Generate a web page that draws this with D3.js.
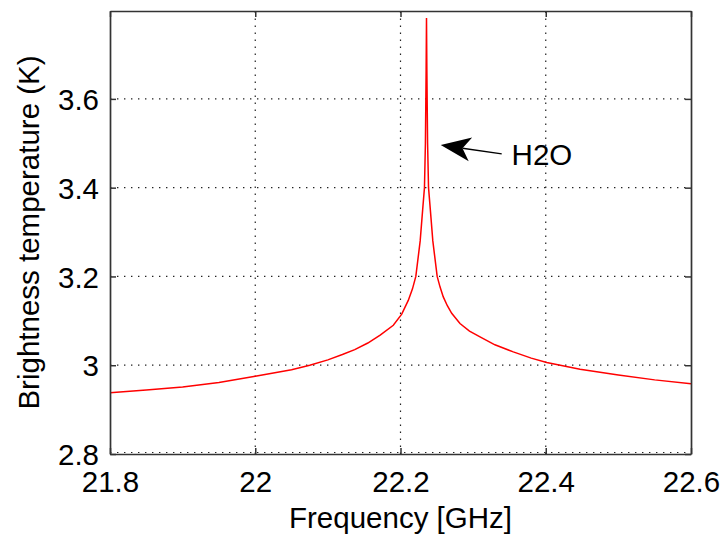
<!DOCTYPE html>
<html>
<head>
<meta charset="utf-8">
<script src="https://cdn.jsdelivr.net/npm/d3@7"></script>
<style>
  html, body { margin: 0; padding: 0; background: #fff; }
  svg { display: block; }
  text { font-family: "Liberation Sans", Arial, Helvetica, sans-serif; fill: #000; }
</style>
</head>
<body>
<svg id="chart" width="726" height="539"></svg>
<script>
// ---- data ----
const freqs = [21.80, 21.85, 21.90, 21.95, 22.00, 22.05, 22.075, 22.10, 22.12, 22.137, 22.155, 22.172, 22.1901, 22.2017, 22.2107, 22.2165,
               22.2211, 22.2271, 22.2305, 22.2330, 22.2343, 22.2353, 22.2358, 22.2363, 22.2373, 22.2386, 22.2411, 22.2445, 22.2505,
               22.2545, 22.2589, 22.2645, 22.2705, 22.2819, 22.295, 22.3095, 22.33, 22.3553, 22.38, 22.4013, 22.4472, 22.50, 22.55, 22.60];
const temps = [2.938, 2.944, 2.951, 2.961, 2.975, 2.990, 3.000, 3.012, 3.024, 3.035, 3.050, 3.068, 3.090, 3.115, 3.146, 3.172,
               3.200, 3.280, 3.350, 3.400, 3.500, 3.667, 3.782, 3.667, 3.500, 3.400, 3.350, 3.280, 3.200,
               3.176, 3.154, 3.134, 3.117, 3.094, 3.077, 3.064, 3.046, 3.030, 3.016, 3.006, 2.991, 2.978, 2.967, 2.958];
const xTicks = [21.8, 22.0, 22.2, 22.4, 22.6];
const xTickLabels = ["21.8", "22", "22.2", "22.4", "22.6"];
const yTicks = [2.8, 3.0, 3.2, 3.4, 3.6];
const yTickLabels = ["2.8", "3", "3.2", "3.4", "3.6"];
const xDomain = [21.8, 22.6];
const yDomain = [2.8, 3.798];
const arrowTail = [22.3394, 3.476];
const arrowTip = [22.2554, 3.496];
const annotationText = "H2O";
const annotationPos = [22.353, 3.474];
const xLabel = "Frequency [GHz]";
const yLabel = "Brightness temperature (K)";

// ---- layout ----
const svg = d3.select("#chart");
const pLeft = 110, pRight = 691, pTop = 11, pBottom = 454;
const x = d3.scaleLinear().domain(xDomain).range([pLeft, pRight]);
const y = d3.scaleLinear().domain(yDomain).range([pBottom, pTop]);
const fs = 29.5;

// grid
const grid = svg.append("g").attr("stroke", "#222").attr("stroke-width", 1.2).attr("stroke-dasharray", "1.4,5.6");
xTicks.forEach(t => {
  if (t > xDomain[0] && t < xDomain[1])
    grid.append("line").attr("x1", x(t)).attr("x2", x(t)).attr("y1", pBottom).attr("y2", pTop);
});
yTicks.forEach(t => {
  const off = (t === yDomain[0] ? 1.5 : 0);
  grid.append("line").attr("x1", pLeft).attr("x2", pRight).attr("y1", y(t) - off).attr("y2", y(t) - off);
});

// data line
const data = freqs.map((f, i) => [f, temps[i]]);
svg.append("path")
  .datum(data)
  .attr("fill", "none")
  .attr("stroke", "#ff0000")
  .attr("stroke-width", 1.5)
  .attr("stroke-linejoin", "miter")
  .attr("d", d3.line().x(d => x(d[0])).y(d => y(d[1])));

// axes (box) with inward ticks
const axisColor = "#333";
const xAxisB = d3.axisBottom(x).tickValues(xTicks).tickFormat((d, i) => xTickLabels[i]).tickSizeInner(-6).tickSizeOuter(0).tickPadding(16);
const gxb = svg.append("g").attr("transform", `translate(0,${pBottom})`).call(xAxisB);
const xAxisT = d3.axisTop(x).tickValues(xTicks).tickFormat("").tickSizeInner(-6).tickSizeOuter(0);
const gxt = svg.append("g").attr("transform", `translate(0,${pTop})`).call(xAxisT);
const yAxisL = d3.axisLeft(y).tickValues(yTicks).tickFormat((d, i) => yTickLabels[i]).tickSizeInner(-6).tickSizeOuter(0).tickPadding(11);
const gyl = svg.append("g").attr("transform", `translate(${pLeft},0)`).call(yAxisL);
const yAxisR = d3.axisRight(y).tickValues(yTicks).tickFormat("").tickSizeInner(-6).tickSizeOuter(0);
const gyr = svg.append("g").attr("transform", `translate(${pRight},0)`).call(yAxisR);
[gxb, gxt, gyl, gyr].forEach(g => {
  g.select(".domain").attr("stroke", axisColor).attr("stroke-width", 1.7);
  g.selectAll(".tick line").attr("stroke", axisColor).attr("stroke-width", 1.5);
  g.selectAll("text").attr("font-family", "Liberation Sans, Arial, sans-serif").attr("font-size", fs).attr("fill", "#000");
});
gxb.selectAll("text").attr("dy", "0.75em");
gyl.selectAll("text").attr("dy", "0.36em");

// axis labels
svg.append("text").attr("x", (pLeft + pRight) / 2).attr("y", 528).attr("text-anchor", "middle").attr("font-size", fs).text(xLabel);
svg.append("text").attr("transform", `translate(39,${(pTop + pBottom) / 2}) rotate(-90)`).attr("text-anchor", "middle").attr("font-size", fs).text(yLabel);

// annotation arrow
const tx = x(arrowTail[0]), ty = y(arrowTail[1]);
const hx = x(arrowTip[0]), hy = y(arrowTip[1]);
const len = Math.hypot(hx - tx, hy - ty);
const ux = (hx - tx) / len, uy = (hy - ty) / len;
const nx = -uy, ny = ux;
const L = 30, W = 24, notch = 22;
const bx = hx - L * ux, by = hy - L * uy;
const nbx = hx - notch * ux, nby = hy - notch * uy;
svg.append("line").attr("x1", tx).attr("y1", ty).attr("x2", nbx).attr("y2", nby).attr("stroke", "#000").attr("stroke-width", 1.4);
svg.append("polygon")
  .attr("points", [[hx, hy], [bx + nx * W / 2, by + ny * W / 2], [nbx, nby], [bx - nx * W / 2, by - ny * W / 2]].map(p => p.join(",")).join(" "))
  .attr("fill", "#000");
svg.append("text").attr("x", x(annotationPos[0])).attr("y", y(annotationPos[1])).attr("dy", "0.36em").attr("font-size", fs).text(annotationText);
</script>
</body>
</html>
